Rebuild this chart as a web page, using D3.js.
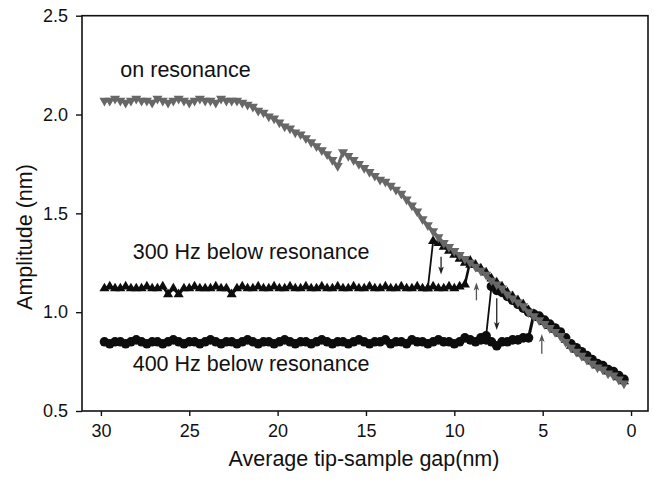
<!DOCTYPE html>
<html>
<head>
<meta charset="utf-8">
<script src="https://cdn.jsdelivr.net/npm/d3@7"></script>
<style>
  html, body { margin: 0; padding: 0; background: #fff; }
  svg text { font-family: "Liberation Sans", Arial, Helvetica, sans-serif; fill: #111; }
</style>
</head>
<body>
<svg id="chart" width="653" height="483"></svg>
<script>
// ---------- DATA ----------
const gap = [
  29.8, 29.5, 29.2, 28.9, 28.6, 28.3, 28.0, 27.7, 27.4, 27.1,
  26.8, 26.5, 26.2, 25.9, 25.6, 25.3, 25.0, 24.7, 24.4, 24.1,
  23.8, 23.5, 23.2, 22.9, 22.6, 22.3, 22.0, 21.7, 21.4, 21.1,
  20.8, 20.5, 20.2, 19.9, 19.6, 19.3, 19.0, 18.7, 18.4, 18.1,
  17.8, 17.5, 17.2, 16.9, 16.6, 16.3, 16.0, 15.7, 15.4, 15.1,
  14.8, 14.5, 14.2, 13.9, 13.6, 13.3, 13.0, 12.7, 12.4, 12.1,
  11.8, 11.5, 11.2, 10.9, 10.6, 10.3, 10.0, 9.7, 9.4, 9.1,
  8.8, 8.5, 8.2, 7.9, 7.6, 7.3, 7.0, 6.7, 6.4, 6.1,
  5.8, 5.5, 5.2, 4.9, 4.6, 4.3, 4.0, 3.7, 3.4, 3.1,
  2.8, 2.5, 2.2, 1.9, 1.6, 1.3, 1.0, 0.7, 0.4
];

// on resonance (grey, downward triangles)
const ampOnResonance = [
  2.07, 2.07, 2.08, 2.07, 2.06, 2.07, 2.08, 2.07, 2.07, 2.06,
  2.08, 2.07, 2.06, 2.07, 2.08, 2.07, 2.06, 2.07, 2.08, 2.07,
  2.07, 2.06, 2.08, 2.07, 2.07, 2.07, 2.06, 2.05, 2.04, 2.02,
  2.01, 1.99, 1.98, 1.96, 1.94, 1.93, 1.91, 1.90, 1.88, 1.86,
  1.84, 1.82, 1.80, 1.77, 1.74, 1.81, 1.79, 1.77, 1.75, 1.73,
  1.71, 1.69, 1.67, 1.66, 1.64, 1.62, 1.60, 1.57, 1.54, 1.51,
  1.47, 1.44, 1.41, 1.38, 1.35, 1.33, 1.31, 1.29, 1.27, 1.25,
  1.23, 1.21, 1.19, 1.16, 1.14, 1.12, 1.09, 1.07, 1.05, 1.03,
  1.00, 0.98, 0.96, 0.94, 0.92, 0.90, 0.88, 0.85, 0.82, 0.80,
  0.78, 0.76, 0.74, 0.72, 0.71, 0.69, 0.68, 0.66, 0.64
];

// 300 Hz below resonance (black up triangles), approach branch
const amp300 = [
  1.12, 1.13, 1.12, 1.12, 1.13, 1.12, 1.12, 1.12, 1.13, 1.12,
  1.12, 1.13, 1.09, 1.12, 1.09, 1.12, 1.12, 1.13, 1.12, 1.12,
  1.12, 1.13, 1.12, 1.12, 1.09, 1.12, 1.13, 1.12, 1.12, 1.13,
  1.12, 1.12, 1.13, 1.12, 1.12, 1.13, 1.12, 1.12, 1.13, 1.12,
  1.12, 1.13, 1.12, 1.12, 1.13, 1.12, 1.12, 1.13, 1.12, 1.12,
  1.13, 1.12, 1.12, 1.13, 1.12, 1.12, 1.13, 1.12, 1.12, 1.13,
  1.12, 1.12, 1.13, 1.12, 1.12, 1.13, 1.12, 1.13, 1.14, 1.26,
  1.24, 1.22, 1.20, 1.17, 1.15, 1.13, 1.10, 1.08, 1.06, 1.04,
  1.01, 0.99, 0.97, 0.95, 0.93, 0.91, 0.89, 0.86, 0.83, 0.81,
  0.79, 0.77, 0.75, 0.73, 0.72, 0.70, 0.69, 0.67, 0.65
];
// 300 Hz retraction branch (jump off the curve)
const gap300Ret = [11.5, 11.2, 10.9, 10.6, 10.3, 10.0, 9.7, 9.4, 9.1];
const amp300Ret = [1.12, 1.36, 1.35, 1.33, 1.31, 1.29, 1.27, 1.25, 1.24];

// 400 Hz below resonance (black circles), approach branch
const amp400 = [
  0.85, 0.84, 0.85, 0.85, 0.84, 0.85, 0.86, 0.85, 0.84, 0.85,
  0.85, 0.84, 0.85, 0.86, 0.85, 0.84, 0.85, 0.85, 0.84, 0.85,
  0.86, 0.85, 0.84, 0.85, 0.85, 0.84, 0.85, 0.86, 0.85, 0.84,
  0.85, 0.85, 0.84, 0.85, 0.86, 0.85, 0.84, 0.85, 0.85, 0.84,
  0.85, 0.86, 0.85, 0.84, 0.85, 0.85, 0.84, 0.85, 0.86, 0.85,
  0.84, 0.85, 0.85, 0.86, 0.84, 0.85, 0.85, 0.84, 0.86, 0.85,
  0.85, 0.84, 0.85, 0.86, 0.85, 0.85, 0.84, 0.85, 0.87, 0.86,
  0.85, 0.87, 0.86, 0.85, 0.83, 0.85, 0.85, 0.86, 0.86, 0.87,
  0.87, 0.99, 0.98, 0.96, 0.94, 0.92, 0.90, 0.87, 0.84, 0.82,
  0.80, 0.78, 0.76, 0.74, 0.73, 0.71, 0.70, 0.68, 0.66
];
// 400 Hz retraction branch
const gap400Ret = [5.8, 6.1, 6.4, 6.7, 7.0, 7.3, 7.6, 7.9, 8.2, 8.5];
const amp400Ret = [1.00, 1.02, 1.04, 1.06, 1.08, 1.10, 1.11, 1.13, 0.88, 0.86];

// arrows marking the jumps
const arrowGap  = [10.75, 8.75, 7.6, 5.05];
const arrowFrom = [1.28, 1.06, 1.07, 0.79];
const arrowTo   = [1.19, 1.15, 0.91, 0.89];

const xTicks = [30, 25, 20, 15, 10, 5, 0];
const yTicks = [0.5, 1.0, 1.5, 2.0, 2.5];

const labels = [
  { text: "on resonance", gap: 28.9, amp: 2.19 },
  { text: "300 Hz below resonance", gap: 28.2, amp: 1.269 },
  { text: "400 Hz below resonance", gap: 28.2, amp: 0.70 }
];

// ---------- CHART ----------
const svg = d3.select("#chart");
const pLeft = 82, pRight = 648, pTop = 15.7, pBottom = 411;

const x = d3.scaleLinear().domain([31.07, -0.96]).range([pLeft, pRight]);
const y = d3.scaleLinear().domain([0.5, 2.5]).range([pBottom, pTop]);

const BLACK = "#0d0d0d", GREY = "#676767";

function zip(xs, ys) { return xs.map((g, i) => ({ g, a: ys[i] })); }

const line = d3.line().x(d => x(d.g)).y(d => y(d.a));

const tri = d3.symbol().type(d3.symbolTriangle).size(44);
const circ = d3.symbol().type(d3.symbolCircle).size(72);

const plot = svg.append("g");

function drawSeries(pts, color, sym, rotate, lw) {
  plot.append("path").datum(pts)
    .attr("d", line).attr("fill", "none")
    .attr("stroke", color).attr("stroke-width", lw)
    .attr("stroke-linejoin", "round");
  plot.append("g").selectAll("path").data(pts).join("path")
    .attr("d", sym)
    .attr("transform", d => `translate(${x(d.g)},${y(d.a)}) rotate(${rotate})`)
    .attr("fill", color);
}

drawSeries(zip(gap, amp300), BLACK, tri, 0, 2.6);
drawSeries(zip(gap300Ret, amp300Ret), BLACK, tri, 0, 1.8);
drawSeries(zip(gap, amp400), BLACK, circ, 0, 3);
drawSeries(zip(gap400Ret, amp400Ret), BLACK, circ, 0, 1.8);
drawSeries(zip(gap, ampOnResonance), GREY, tri, 180, 3);

// arrows
arrowGap.forEach((g, i) => {
  const x0 = x(g), y0 = y(arrowFrom[i]), y1 = y(arrowTo[i]);
  const dir = y1 > y0 ? 1 : -1;
  const col = dir > 0 ? "#222" : "#555";
  plot.append("line").attr("x1", x0).attr("x2", x0)
    .attr("y1", y0).attr("y2", y1 - dir * 3)
    .attr("stroke", col).attr("stroke-width", 1.3);
  plot.append("path")
    .attr("d", `M${x0},${y1} L${x0 - 2.8},${y1 - dir * 8} L${x0},${y1 - dir * 6} L${x0 + 2.8},${y1 - dir * 8} Z`)
    .attr("fill", col);
});

// frame
svg.append("rect").attr("x", pLeft).attr("y", pTop)
  .attr("width", pRight - pLeft).attr("height", pBottom - pTop)
  .attr("fill", "none").attr("stroke", "#111").attr("stroke-width", 1.6);

// axes
const xAxis = d3.axisBottom(x).tickValues(xTicks).tickFormat(d3.format("d"))
  .tickSize(5).tickSizeOuter(0).tickPadding(8);
const gx = svg.append("g").attr("transform", `translate(0,${pBottom})`).call(xAxis);
gx.select(".domain").remove();
gx.selectAll(".tick line").attr("stroke", "#111").attr("stroke-width", 1.4);
gx.selectAll(".tick text").attr("font-size", 18).attr("fill", "#111");

const yAxis = d3.axisLeft(y).tickValues(yTicks).tickFormat(d3.format(".1f"))
  .tickSize(6).tickSizeOuter(0).tickPadding(8);
const gy = svg.append("g").attr("transform", `translate(${pLeft},0)`).call(yAxis);
gy.select(".domain").remove();
gy.selectAll(".tick line").attr("stroke", "#111").attr("stroke-width", 1.4);
gy.selectAll(".tick text").attr("font-size", 18).attr("fill", "#111");

// series labels
svg.append("g").selectAll("text").data(labels).join("text")
  .attr("x", d => x(d.gap)).attr("y", d => y(d.amp))
  .attr("font-size", 21.5)
  .text(d => d.text);

// axis titles
svg.append("text").attr("x", 364).attr("y", 466)
  .attr("text-anchor", "middle").attr("font-size", 21.5)
  .text("Average tip-sample gap(nm)");
svg.append("text").attr("transform", "translate(32,237) rotate(-90)")
  .attr("text-anchor", "middle").attr("font-size", 21.5)
  .text("Amplitude (nm)");
</script>
</body>
</html>
